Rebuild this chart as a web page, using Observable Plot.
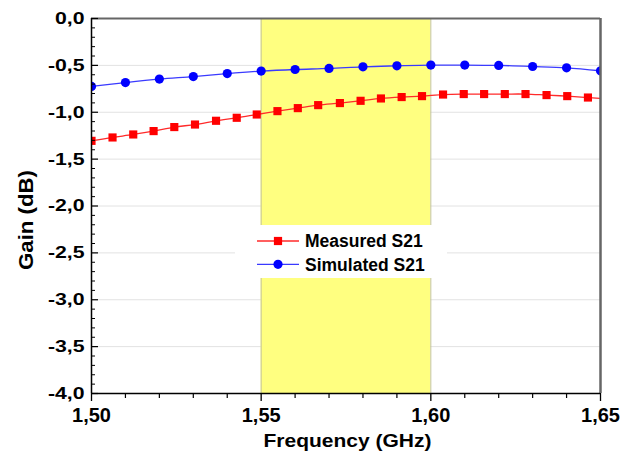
<!DOCTYPE html>
<html><head><meta charset="utf-8">
<script src="https://cdn.jsdelivr.net/npm/d3@7"></script>
<script src="https://cdn.jsdelivr.net/npm/@observablehq/plot@0.6"></script>
<style>body{margin:0;background:#fff}</style>
</head><body><div id="chart"></div>
<script>
// ---- data ----
const simFreq = [1.50, 1.51, 1.52, 1.53, 1.54, 1.55, 1.56, 1.57, 1.58, 1.59, 1.60, 1.61, 1.62, 1.63, 1.64, 1.65];
const simGain = [-0.725, -0.683, -0.646, -0.619, -0.587, -0.561, -0.544, -0.533, -0.515, -0.505, -0.497, -0.497, -0.501, -0.512, -0.526, -0.558];

const measFreq = [1.5000, 1.5062, 1.5123, 1.5183, 1.5244, 1.5305, 1.5367, 1.5428, 1.5487, 1.5548, 1.5608, 1.5668, 1.5732,
                  1.5793, 1.5853, 1.5914, 1.5974, 1.6036, 1.6097, 1.6157, 1.6218, 1.6279, 1.6341, 1.6402, 1.6463];
const measGain = [-1.305, -1.269, -1.237, -1.201, -1.158, -1.131, -1.091, -1.059, -1.024, -0.988, -0.956, -0.924, -0.902,
                  -0.878, -0.853, -0.838, -0.828, -0.811, -0.806, -0.806, -0.806, -0.806, -0.817, -0.828, -0.843];
// measured trace continues to the frame edge past the last marker
const measEndFreq = 1.65;
const measEndGain = -0.853;

const bandFreq = [1.55, 1.60];          // highlighted band
const xDomain = [1.50, 1.65];
const yDomain = [-4, 0];
const xMajorTicks = [1.50, 1.55, 1.60, 1.65];
const xMinorTicks = [1.51, 1.52, 1.53, 1.54, 1.56, 1.57, 1.58, 1.59, 1.61, 1.62, 1.63, 1.64];
const yMajorTicks = [0, -0.5, -1.0, -1.5, -2.0, -2.5, -3.0, -3.5, -4.0];
const yGridTicks = [-0.5, -1.0, -1.5, -2.0, -2.5, -3.0, -3.5];
const yMinorTicks = [-0.1, -0.2, -0.3, -0.4, -0.6, -0.7, -0.8, -0.9, -1.1, -1.2, -1.3, -1.4, -1.6, -1.7, -1.8, -1.9,
                     -2.1, -2.2, -2.3, -2.4, -2.6, -2.7, -2.8, -2.9, -3.1, -3.2, -3.3, -3.4, -3.6, -3.7, -3.8, -3.9];
const xLabel = "Frequency (GHz)";
const yLabel = "Gain (dB)";
const seriesNames = ["Measured S21", "Simulated S21"];
const seriesColors = ["#ff0000", "#0000ff"];
const lineColors = ["#ff2a2a", "#3a3aff"];

// ---- build ----
const fmtY = d => d.toFixed(1).replace(".", ",");
const fmtX = d => d.toFixed(2).replace(".", ",");
const measured = measFreq.map((f, i) => ({f, g: measGain[i]}));
const measuredTrace = [...measured, {f: measEndFreq, g: measEndGain}];
const simulated = simFreq.map((f, i) => ({f, g: simGain[i]}));
const band = [{f1: bandFreq[0], f2: bandFreq[1], g1: yDomain[0], g2: yDomain[1]}];

const chart = Plot.plot({
  width: 631, height: 451,
  marginLeft: 91, marginRight: 31, marginTop: 18, marginBottom: 58,
  style: {fontFamily: "'Liberation Sans', Arial, sans-serif", fontWeight: "bold", background: "#fff", color: "#000", overflow: "visible"},
  x: {domain: xDomain},
  y: {domain: yDomain},
  marks: [
    Plot.ruleY(yGridTicks, {stroke: "#e2e2e2", strokeWidth: 1}),
    Plot.rect(band, {x1: "f1", x2: "f2", y1: "g1", y2: "g2", fill: "#ffff80"}),
    Plot.ruleX(bandFreq, {stroke: "#c4c49a", strokeWidth: 1}),
    Plot.line(measuredTrace, {x: "f", y: "g", stroke: lineColors[0], strokeWidth: 1.3, curve: "catmull-rom", clip: true}),
    Plot.line(simulated, {x: "f", y: "g", stroke: lineColors[1], strokeWidth: 1.3, curve: "catmull-rom", clip: true}),
    Plot.dot(measured, {x: "f", y: "g", symbol: "square", r: 4.6, fill: seriesColors[0], stroke: "none", clip: true}),
    Plot.dot(simulated, {x: "f", y: "g", symbol: "circle", r: 4.6, fill: seriesColors[1], stroke: "none", clip: true}),
    Plot.ruleY([yDomain[1]], {stroke: "#666", strokeWidth: 2}),
    Plot.ruleX([xDomain[1]], {stroke: "#666", strokeWidth: 2.5}),
    Plot.ruleX([xDomain[0]], {stroke: "#000", strokeWidth: 1.5}),
    Plot.ruleY([yDomain[0]], {stroke: "#000", strokeWidth: 1.5}),
    Plot.axisX(xMajorTicks, {tickSize: 8, tickPadding: 6, tickFormat: fmtX, label: null, strokeWidth: 1.3}),
    Plot.axisX(xMinorTicks, {tickSize: 5, tickFormat: () => "", label: null, strokeWidth: 1.2}),
    Plot.axisY(yMajorTicks, {tickSize: 0, tickPadding: 7, tickFormat: fmtY, label: null}),
    Plot.axisY(yMajorTicks, {tickSize: 7, dx: 7, tickFormat: () => "", label: null, strokeWidth: 1.2}),
    Plot.axisY(yMinorTicks, {tickSize: 4, dx: 4, tickFormat: () => "", label: null, strokeWidth: 1}),
    Plot.text([yLabel], {frameAnchor: "left", rotate: -90, fontSize: 21, text: d => d}),
    Plot.text([xLabel], {frameAnchor: "bottom", fontSize: 18, text: d => d})
  ]
});
document.getElementById("chart").appendChild(chart);

// text sizing / horizontal widening (the original lettering is wide)
function stretch(t, s) {
  const x = +t.getAttribute("x") || 0;
  const tr = t.getAttribute("transform") || "";
  t.setAttribute("transform", `${tr} translate(${x},0) scale(${s},1) translate(${-x},0)`);
}
const yTickSet = new Set(yMajorTicks.map(fmtY));
const xTickSet = new Set(xMajorTicks.map(fmtX));
chart.querySelectorAll("text").forEach(t => {
  const s = t.textContent;
  if (yTickSet.has(s)) { t.style.fontSize = "17px"; t.style.fontWeight = "bold"; stretch(t, 1.25); }
  else if (xTickSet.has(s)) { t.style.fontSize = "20px"; t.style.fontWeight = "bold"; }
  else if (s === xLabel || s === yLabel) {
    const isX = s === xLabel;
    t.style.fontSize = isX ? "18px" : "21px";
    t.style.fontWeight = "bold";
    t.setAttribute("text-anchor", "middle");
    t.setAttribute("dy", "0.35em");
    t.setAttribute("textLength", isX ? 168 : 100);
    t.setAttribute("lengthAdjust", "spacingAndGlyphs");
    t.removeAttribute("x"); t.removeAttribute("y");
    // place relative to the frame (layout only)
    t.setAttribute("transform", isX ? "translate(347.5,441)" : "translate(26,220) rotate(-90)");
    // the g may carry its own offset; neutralize it
    const g = t.parentNode;
    if (g && g.getAttribute("transform")) g.removeAttribute("transform");
  }
});

// legend
const svg = d3.select(chart);
const lg = svg.append("g");
lg.append("rect").attr("x", 235).attr("y", 225).attr("width", 212).attr("height", 53).attr("fill", "#fff");
seriesNames.forEach((name, i) => {
  const cy = 241 + i * 23.3;
  lg.append("line").attr("x1", 257).attr("x2", 299).attr("y1", cy).attr("y2", cy)
    .attr("stroke", lineColors[i]).attr("stroke-width", 1.3);
  if (i === 0) {
    lg.append("rect").attr("x", 278 - 4.1).attr("y", cy - 4.1).attr("width", 8.2).attr("height", 8.2).attr("fill", seriesColors[i]);
  } else {
    lg.append("circle").attr("cx", 278).attr("cy", cy).attr("r", 4.6).attr("fill", seriesColors[i]);
  }
  lg.append("text").attr("x", 305).attr("y", cy + 6.2).attr("text-anchor", "start")
    .style("font-size", "17.5px").style("font-weight", "bold").attr("fill", "#000").text(name);
});
</script>
</body></html>
